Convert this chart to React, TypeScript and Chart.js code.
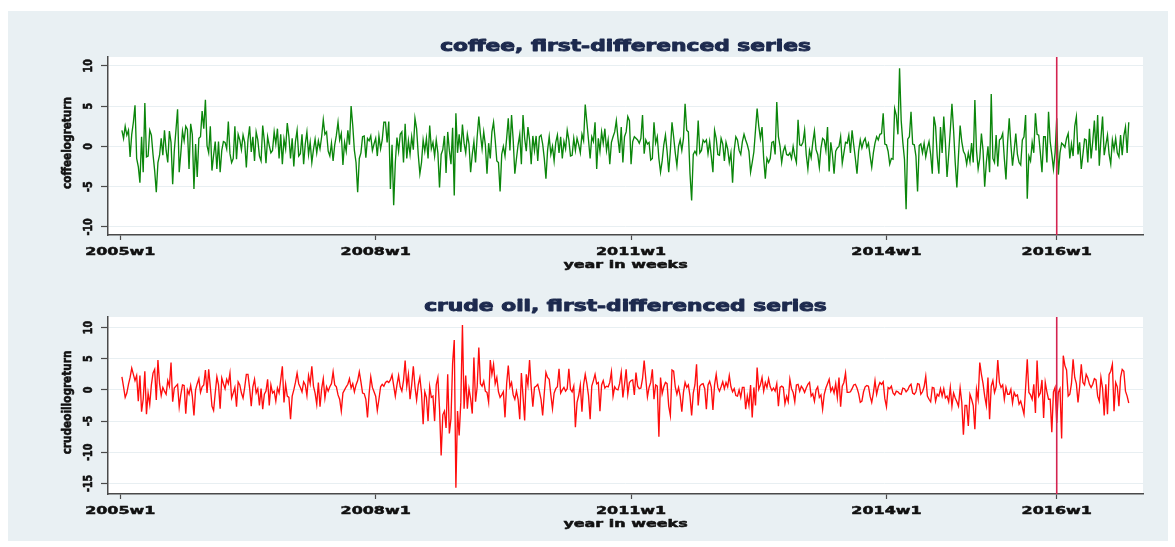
import React, { useEffect, useRef } from "react";
import { Chart, registerables } from "chart.js";

Chart.register(...registerables);

// ---------- data (weekly first differences, week index 0 = 2005w1) ----------
const FIRST_WEEK = 1;
const xTickWeeks = [0, 156, 312, 468, 572];
const xTickLabels = ["2005w1", "2008w1", "2011w1", "2014w1", "2016w1"];
const markerWeek = 572; // 2016w1
const coffeeYTicks = [-10, -5, 0, 5, 10];
const oilYTicks = [-15, -10, -5, 0, 5, 10];

const coffee2005 = [2.0, 1.0, 2.5, 1.4, 2.0, -1.3, 1.5, 3.0, 5.1, -1.5, -2.5, -4.5, 1.2, -3.2, 5.4, -1.3, -1.2, 2.0, 1.4, -1.0, -3.0, -5.7, -2.0, -1.1, 1.0, -1.1, 2.0, -0.5, -2.0, 1.9, 0.5, -4.7, -0.5, 2.0, 4.6, -3.2, -0.8, 1.9, 0.7, 2.5, 2.1, -2.8, 2.8, 1.5, -5.3, 0.3, -3.8, 1.0, 1.2, 4.4, 2.2];
const coffee2006 = [5.8, 0.1, -0.8, 2.5, -3.0, -1.1, 0.6, -2.8, 0.6, -3.2, -0.5, 0.6, 0.5, -0.3, 3.1, -0.9, -2.0, -1.5, 2.5, -1.6, 1.5, 0.8, -0.4, 1.4, 0.5, -2.6, 0.8, 2.5, -0.7, 1.2, -1.8, 1.8, 0.8, -1.2, -1.8, 2.6, 0.7, -2.1, 1.2, 0.1, -0.8, -0.5, 1.8, 0.3, 2.2, -1.5, 1.5, -2.2, 0.9, -0.3, 2.9, 1.2];
const coffee2007 = [-1.5, 1.0, -2.5, 0.6, 2.0, -1.2, -0.9, 1.5, -2.2, 0.3, 1.8, -1.0, 0.5, -2.0, -0.4, 0.9, -0.8, 0.7, -0.3, 1.2, 3.3, 1.5, 1.8, -0.6, -1.2, 0.4, -1.8, 0.2, 1.4, 3.0, 0.8, 1.6, -2.3, 0.5, -0.6, 2.0, 0.2, 5.0, 2.6, -0.5, -2.0, -5.7, -1.5, -0.8, 1.2, 1.3, -1.4, 1.0, 0.7, 1.3, -0.5, 0.3];
const coffee2008 = [1.0, -1.2, 1.3, -0.3, 0.8, 3.0, 3.0, 0.5, 3.1, -5.3, 0.2, -7.3, -2.0, 1.1, -0.6, 1.5, 1.8, -2.0, 2.8, -1.5, 0.7, -1.0, 1.2, -0.4, 3.5, 2.2, -1.0, -3.4, -2.0, 0.8, -0.6, 1.0, -1.5, 2.6, -0.3, 0.5, -1.2, 0.8, -0.8, -5.1, -1.0, -0.4, 1.3, -3.3, 1.8, -0.5, -2.2, 2.3, -6.1, 4.1, -0.8, 1.5];
const coffee2009 = [-0.7, 2.7, 0.4, -0.8, 1.5, 0.3, -3.2, -1.0, 0.6, -2.0, 1.2, 3.7, 1.5, -0.3, 1.8, 0.2, -3.4, 0.4, -1.5, 1.8, 3.0, 0.8, -1.8, -2.0, -5.6, -1.0, 0.0, -1.2, 1.0, 3.5, -0.5, 3.9, 0.8, -3.4, -1.5, 0.2, 1.5, -2.2, 3.9, 1.0, -0.6, 2.4, 0.8, -2.2, 1.3, -0.5, 1.3, -1.8, 1.2, 1.4, 0.3, -1.5];
const coffee2010 = [-4.0, -0.5, 1.2, -1.0, 0.0, -1.8, 0.5, 1.4, -0.8, 1.2, -1.5, 0.6, -0.3, 2.0, 0.8, -1.2, -1.1, 1.0, -0.5, 1.0, 0.2, -0.8, 1.5, 0.7, 5.2, 3.0, 0.8, -1.5, 1.2, 0.6, 3.0, -2.8, 1.0, -0.6, 1.8, 0.4, 2.2, -0.5, 0.8, -2.2, 0.5, 1.2, 1.8, 3.2, 1.0, -0.8, 2.4, -2.0, 1.2, 1.8, 3.7, 3.2];
const coffee2011 = [-2.2, 0.6, 1.2, 1.0, 0.8, 0.4, 1.0, 3.9, -0.9, 0.8, 0.3, 0.5, -1.7, -1.5, 3.0, 0.4, 1.2, -1.5, -3.2, -1.8, 0.2, 1.4, -0.6, -3.2, -0.5, 3.0, 1.2, -0.8, -2.4, 0.0, 0.8, -0.5, 1.0, 5.3, 2.0, 1.8, -3.4, -6.7, -1.0, -0.6, -1.0, 3.2, -0.8, -0.5, 0.8, 0.5, 0.8, -0.9, 0.6, -1.2, -3.2, 2.0];
const coffee2012 = [1.0, -1.0, -1.1, 1.0, 0.3, -1.8, 0.5, -0.3, -2.0, -0.8, -4.5, -0.5, 1.2, 0.8, -0.5, -1.0, 0.6, 1.5, 0.8, 0.2, -0.6, -3.2, -2.0, -0.7, 2.0, 4.7, 2.5, 1.0, 2.4, -1.5, -4.0, -1.5, -2.0, -1.5, 0.5, 0.6, -1.0, 5.5, 1.2, 0.0, -2.0, -0.6, 0.0, -1.0, -1.1, -0.8, -1.5, 0.0, -1.2, -2.0, 3.3, 0.2];
const coffee2013 = [0.1, 0.5, 2.0, -1.0, -2.8, -0.5, -1.4, 0.5, 1.9, -0.4, -1.0, -2.6, -0.2, 1.0, 0.8, -0.5, 2.4, -3.1, 0.5, -1.0, -3.4, -0.6, -0.2, 0.0, 1.2, -2.1, -0.8, 0.5, 0.4, 1.4, -0.8, 2.0, 0.2, -1.5, -3.4, -0.6, 0.8, -0.2, 0.6, 1.0, -0.1, 0.4, -1.2, -2.6, -0.8, 0.4, 1.2, 0.8, 1.5, 1.6, 4.1, 0.3];
const coffee2014 = [0.2, -0.6, -2.2, -1.5, -1.6, 4.7, 3.9, 1.5, 9.7, 3.2, 0.5, -1.6, -7.8, 0.9, 1.2, 4.3, 0.3, 0.2, -1.2, -5.6, 0.1, 0.3, -0.8, 0.4, -1.3, -0.2, 0.6, -1.0, -3.4, 3.7, 2.5, -1.2, -3.4, 2.4, -0.8, 3.7, 0.5, -3.8, -1.0, 2.0, 5.3, 2.0, -2.0, -5.1, -1.1, 2.6, 0.6, -0.6, -1.0, -2.2, -0.8, -1.9];
const coffee2015 = [0.4, -2.0, 5.75, -0.5, -2.8, -1.5, 1.6, -0.5, -5.0, -2.0, 0.0, -3.2, 6.5, -1.5, -2.0, 1.4, -2.5, 0.8, 1.0, 1.6, -1.5, -4.1, 0.5, 3.5, 0.2, -2.4, -0.5, 1.6, -1.0, -2.0, -2.3, 0.8, 1.2, 3.9, -6.5, -1.2, -1.8, 0.5, -0.8, 4.1, 1.5, 1.4, -0.8, -3.2, 1.2, 1.2, -2.0, 4.3, 0.6, -1.0, -2.8, -0.8];
const coffee2016 = [3.5, -3.5, -0.8, 0.4, 0.2, -0.1, 1.0, 1.6, -1.5, 0.3, -1.2, 2.5, 3.7, -1.0, 0.5, -2.8, -1.0, 0.9, 0.8, -2.0, 2.2, -1.5, 0.6, 3.2, -0.5, 3.9, -2.4, 1.0, 3.7, -1.1, 0.2, 1.4, -1.0, -2.2, 0.8, -0.4, 1.0, -0.8, -1.3, 1.4, -1.1, 1.3, 2.4, -0.8, 3.0];

const oil2005 = [2.1, 0.5, -1.2, -0.5, 0.9, 2.0, 3.5, 2.5, 1.5, 2.3, -1.8, 2.3, -3.5, -1.5, 3.0, -3.9, -0.5, -2.3, 0.8, 2.7, 3.3, -1.6, 4.8, 1.0, -0.9, 0.4, -0.2, -0.7, 1.5, 0.6, 4.4, -1.9, 0.3, 0.6, 0.9, -2.7, -0.7, 0.8, 0.7, -3.8, 0.0, -0.7, 0.7, -1.0, -4.1, 0.0, 1.0, 1.8, -0.4, 0.5, 0.8];
const oil2006 = [3.2, -0.5, 3.3, 0.5, -2.6, -3.3, -0.5, 2.1, 0.8, -3.0, 1.9, 1.0, 0.2, 1.7, 1.0, 2.7, -1.3, -0.5, 0.4, -2.7, 1.3, 0.8, -0.5, -1.3, 0.4, 2.5, 2.5, 0.3, -2.6, 0.5, 1.7, -0.5, 0.2, -2.5, 0.2, -3.1, -0.7, -0.2, 1.7, -2.5, 0.8, -0.5, -0.2, -1.8, 0.3, -0.5, 1.6, 3.8, -2.0, 0.9, -1.0, -1.2];
const oil2007 = [-4.7, -1.0, 0.0, 1.2, 2.7, 1.0, 0.4, -0.3, 1.3, 0.8, -0.9, 2.3, 1.0, 3.8, 0.6, -0.5, -2.3, 1.2, -2.7, 0.2, 1.8, -1.3, 0.5, -0.2, 0.5, 1.0, 2.9, 0.8, 0.5, -0.8, -1.5, -3.4, -0.5, 0.0, 0.5, 0.9, 1.8, 0.3, 1.0, -0.3, 0.8, 1.5, 2.9, 1.3, -0.5, -0.6, -1.5, -4.4, -0.6, 2.1, 0.4, -0.3];
const oil2008 = [-1.0, -3.3, -1.5, 0.5, 0.9, 0.6, 1.2, 1.4, 1.2, 1.6, 2.4, 0.7, -1.0, 0.8, 2.3, 0.5, -0.2, 1.5, 4.7, 0.6, 2.5, -1.5, 0.8, 3.8, 0.5, -1.6, 0.8, 2.0, -0.5, -5.5, -0.3, -1.2, -5.0, 0.5, -1.2, -1.0, -5.0, 0.8, 2.0, -3.0, -10.5, -4.0, -3.4, -6.1, 2.5, -7.0, -4.6, 4.3, 8.0, -15.7, -3.4, -7.3];
const oil2009 = [-2.0, 10.4, -3.0, 2.3, -3.0, 0.2, -1.4, -3.8, 5.2, -1.9, 0.5, 6.8, 1.0, 0.6, 1.4, -0.2, -0.4, -2.0, 4.8, 2.5, 4.1, 1.0, 2.0, -0.3, -1.2, -0.8, -0.3, -4.4, 1.0, 3.9, 0.5, 1.2, -0.8, -1.5, -0.2, -1.5, -4.7, 2.7, -1.0, -4.9, 2.5, 0.8, 4.8, 0.5, -2.7, 0.4, 0.6, 0.9, -0.2, -1.5, -4.1, -0.5];
const oil2010 = [2.8, 2.0, 1.7, -0.8, -3.0, -0.5, 0.2, 0.5, 3.4, -0.5, 0.0, 0.4, -0.2, 0.2, 3.4, 0.1, -0.3, 0.6, -6.0, -2.0, -0.9, 0.8, -3.5, 0.8, 2.5, 1.0, -0.9, -4.7, 0.6, 1.5, 2.5, 1.0, 1.2, -3.4, 0.8, 1.5, 0.3, 0.6, 0.5, 1.2, 2.9, -1.0, 0.5, 0.1, 0.0, 1.0, 2.8, -1.2, 0.9, 3.3, -0.7, 1.2];
const oil2011 = [1.5, 1.6, -0.8, 2.8, 0.6, 0.2, 0.3, 1.8, 4.7, 1.8, -1.1, 0.4, 1.2, 3.3, -1.5, 0.8, 0.6, -7.5, 2.0, -0.6, 0.5, 1.2, 1.0, -2.6, -4.1, 3.2, 3.0, 0.5, -0.7, 0.4, -1.0, -3.5, -0.4, 1.2, 0.4, 0.8, -1.0, -4.1, -0.5, 0.8, 4.1, -2.5, 0.6, 0.9, 1.0, 0.2, -3.1, 0.8, 1.4, 0.4, -3.2, 0.8];
const oil2012 = [2.5, 0.4, -0.2, 0.5, 1.3, 0.2, 1.2, 0.5, 2.3, 0.5, -0.3, 0.2, -0.9, -1.0, 0.0, -1.2, 0.4, 0.4, -3.1, -1.0, -2.5, 0.8, -4.4, 0.4, -2.5, 3.6, 0.1, 0.8, 2.0, -0.2, 1.2, 0.4, 1.8, 0.5, -0.1, 0.3, -0.2, 1.0, -2.6, 0.4, 0.6, 0.4, -2.2, -1.0, -1.9, 1.7, 0.2, -0.4, -1.9, 0.8, 0.9, -0.2];
const oil2013 = [0.6, 0.2, -0.4, 0.3, 0.9, 1.2, -1.0, -0.6, -1.8, 0.0, 0.5, -1.2, -0.8, -3.1, -0.7, 0.3, 1.0, 1.7, -0.2, 0.4, -0.5, 1.0, -1.2, 2.0, -2.7, 0.6, 1.2, 2.7, -0.4, -0.4, -0.3, 0.2, 0.8, 0.9, 0.3, -0.6, -2.0, -1.8, -0.3, 0.5, 0.7, 0.6, -1.0, -2.0, -0.5, 1.5, -0.7, 0.5, 1.2, 0.9, 1.3, -1.4];
const oil2014 = [-2.7, 0.4, 0.2, 0.6, -0.5, -0.8, -0.2, -0.3, -0.6, -0.7, 0.3, 0.2, -0.3, 0.0, 0.6, 0.9, -0.5, -0.7, -0.3, 1.0, 0.9, -0.7, -0.3, 0.5, 2.2, -1.0, -1.5, -1.9, 0.4, 0.3, -1.8, -0.7, -1.0, 0.2, -1.0, 0.2, -1.3, -1.0, -1.9, 0.4, -2.6, -0.5, -1.3, -1.9, -2.6, 0.3, -2.0, -7.2, -2.5, -2.5, -5.8, -0.7];
const oil2015 = [-1.5, -2.5, -6.3, 0.1, -1.5, 4.4, 2.5, 1.0, -1.0, -2.5, 2.0, -4.7, 0.6, 1.5, -0.4, 0.5, 4.8, 1.2, 0.4, 0.8, -1.5, 0.4, -0.7, -0.7, 0.1, -2.1, -0.4, -1.0, -0.8, -2.3, -1.8, -2.8, -3.9, 0.4, 4.9, -0.4, -0.8, -1.5, 0.9, -3.7, 4.7, -1.0, -0.5, 1.6, -4.5, 1.2, -0.3, -1.5, -1.5, -6.8, -0.3, 0.4];
const oil2016 = [-5.3, -0.4, 0.2, -7.8, 5.5, 3.9, 3.2, -1.0, -0.7, 1.0, 4.9, 2.0, 1.0, -2.0, 0.5, 4.1, 1.2, 0.8, 2.5, 1.9, 0.9, 0.4, 0.9, 1.8, 1.6, -1.0, -1.8, 2.0, 0.3, -4.1, 0.9, -3.9, 2.5, 3.0, 4.1, -3.4, 1.2, 0.5, -2.6, 2.0, 3.3, 3.0, -0.2, -1.0, -2.1];

const coffee = [
  ...coffee2005, ...coffee2006, ...coffee2007, ...coffee2008, ...coffee2009, ...coffee2010,
  ...coffee2011, ...coffee2012, ...coffee2013, ...coffee2014, ...coffee2015, ...coffee2016,
];
const oil = [
  ...oil2005, ...oil2006, ...oil2007, ...oil2008, ...oil2009, ...oil2010,
  ...oil2011, ...oil2012, ...oil2013, ...oil2014, ...oil2015, ...oil2016,
];

// ---------- styling ----------
const BG = "#e9f0f3";
const TITLE_COLOR = "#1d2a4e";
const AXIS_COLOR = "#4a4a4a";
const GRID_COLOR = "#e8eff2";
const MARKER_COLOR = "#d42450";
const FONT = '"DejaVu Sans", sans-serif';
const SX = 1.45; // horizontal stretch of the original's lettering
const SY_ROT = 1.25; // thickening of rotated lettering
const X_MIN = -7.5;
const X_MAX = 624.7;
const CANVAS_W = 1160;
const CANVAS_H = 270;

function drawStretched(ctx: CanvasRenderingContext2D, text: string, cx: number, cy: number, stroke: number) {
  ctx.save();
  ctx.translate(cx, cy);
  ctx.scale(SX, 1);
  ctx.textAlign = "center";
  ctx.textBaseline = "middle";
  ctx.fillText(text, 0, 0);
  if (stroke > 0) {
    ctx.lineWidth = stroke;
    ctx.lineJoin = "round";
    ctx.strokeStyle = ctx.fillStyle as string;
    ctx.strokeText(text, 0, 0);
  }
  ctx.restore();
}

function drawRotated(ctx: CanvasRenderingContext2D, text: string, cx: number, cy: number, stroke: number) {
  ctx.save();
  ctx.translate(cx, cy);
  ctx.rotate(-Math.PI / 2);
  ctx.scale(1, SY_ROT);
  ctx.textAlign = "center";
  ctx.textBaseline = "middle";
  ctx.fillText(text, 0, 0);
  if (stroke > 0) {
    ctx.lineWidth = stroke;
    ctx.lineJoin = "round";
    ctx.strokeStyle = ctx.fillStyle as string;
    ctx.strokeText(text, 0, 0);
  }
  ctx.restore();
}

type PanelProps = {
  values: number[];
  color: string;
  title: string;
  yTitle: string;
  yTicks: number[];
  yMin: number;
  yMax: number;
  top: number;
  bottomAxisH: number;
};

function Panel({ values, color, title, yTitle, yTicks, yMin, yMax, top, bottomAxisH }: PanelProps) {
  const ref = useRef<HTMLCanvasElement | null>(null);

  useEffect(() => {
    if (!ref.current) return;
    const points = values.map((v, i) => ({ x: FIRST_WEEK + i, y: v }));

    const panelPlugin = {
      id: "panelDecor",
      beforeDraw(chart: any) {
        const { ctx, chartArea: ca } = chart;
        ctx.save();
        ctx.fillStyle = "#ffffff";
        ctx.fillRect(ca.left, ca.top, ca.right - ca.left, ca.bottom - ca.top);
        ctx.restore();
      },
      afterDatasetsDraw(chart: any) {
        const { ctx, chartArea: ca, scales } = chart;
        const x = scales.x.getPixelForValue(markerWeek);
        ctx.save();
        ctx.strokeStyle = MARKER_COLOR;
        ctx.lineWidth = 1.6;
        ctx.beginPath();
        ctx.moveTo(x, ca.top);
        ctx.lineTo(x, ca.bottom);
        ctx.stroke();
        ctx.restore();
      },
      afterDraw(chart: any) {
        const { ctx, chartArea: ca, scales } = chart;
        const midX = (ca.left + ca.right) / 2;
        ctx.save();
        ctx.fillStyle = TITLE_COLOR;
        ctx.font = `bold 15px ${FONT}`;
        drawStretched(ctx, title, midX, ca.top - 10, 0.9);

        ctx.fillStyle = "#111111";
        ctx.font = `bold 11px ${FONT}`;
        xTickWeeks.forEach((w, i) => {
          drawStretched(ctx, xTickLabels[i], scales.x.getPixelForValue(w), ca.bottom + 17.5, 0.5);
        });
        drawStretched(ctx, "year in weeks", midX, ca.bottom + 30, 0.5);

        ctx.font = `bold 9.5px ${FONT}`;
        yTicks.forEach((v) => {
          drawRotated(ctx, String(v), ca.left - 19, scales.y.getPixelForValue(v), 0.5);
        });
        ctx.font = `bold 10.5px ${FONT}`;
        drawRotated(ctx, yTitle, ca.left - 40, (ca.top + ca.bottom) / 2 - 3, 0.5);
        ctx.restore();
      },
    };

    const chart = new Chart(ref.current, {
      type: "line",
      data: {
        datasets: [
          {
            data: points,
            borderColor: color,
            borderWidth: 1.35,
            pointRadius: 0,
            tension: 0,
            fill: false,
          },
        ],
      },
      options: {
        responsive: false,
        maintainAspectRatio: false,
        animation: false,
        events: [],
        layout: { padding: { top: 46, right: CANVAS_W - 1135, left: 0, bottom: 0 } },
        plugins: {
          legend: { display: false },
          title: { display: false },
          tooltip: { enabled: false },
        },
        scales: {
          x: {
            type: "linear",
            min: X_MIN,
            max: X_MAX,
            afterBuildTicks: (s: any) => {
              s.ticks = xTickWeeks.map((v) => ({ value: v }));
            },
            afterFit: (s: any) => {
              s.height = bottomAxisH;
            },
            ticks: { display: false },
            grid: {
              drawOnChartArea: false,
              drawTicks: true,
              tickLength: 5,
              tickColor: AXIS_COLOR,
              tickWidth: 1.2,
            },
            border: { display: true, color: AXIS_COLOR, width: 1.5 },
          },
          y: {
            type: "linear",
            min: yMin,
            max: yMax,
            afterBuildTicks: (s: any) => {
              s.ticks = yTicks.map((v) => ({ value: v }));
            },
            afterFit: (s: any) => {
              s.width = 100;
            },
            ticks: { display: false },
            grid: {
              color: GRID_COLOR,
              lineWidth: 1,
              drawTicks: true,
              tickLength: 7,
              tickColor: AXIS_COLOR,
              tickWidth: 1.2,
            },
            border: { display: true, color: AXIS_COLOR, width: 1.5 },
          },
        },
      } as any,
      plugins: [panelPlugin],
    });
    return () => chart.destroy();
  }, []);

  return (
    <canvas
      ref={ref}
      width={CANVAS_W}
      height={CANVAS_H}
      style={{ position: "absolute", left: 8, top, width: CANVAS_W, height: CANVAS_H }}
    />
  );
}

export default function App() {
  return (
    <div style={{ position: "absolute", left: 0, top: 0, width: 1175, height: 547, background: "#ffffff" }}>
      <div style={{ position: "absolute", left: 8, top: 11, width: 1160, height: 530, background: BG }} />
      <Panel
        values={coffee}
        color="#0b860b"
        title="coffee, first-differenced series"
        yTitle="coffeelogreturn"
        yTicks={coffeeYTicks}
        yMin={-11}
        yMax={11.1}
        top={11}
        bottomAxisH={46}
      />
      <Panel
        values={oil}
        color="#ff0d0d"
        title="crude oil, first-differenced series"
        yTitle="crudeoillogreturn"
        yTicks={oilYTicks}
        yMin={-16.7}
        yMax={11.7}
        top={271}
        bottomAxisH={47}
      />
    </div>
  );
}
